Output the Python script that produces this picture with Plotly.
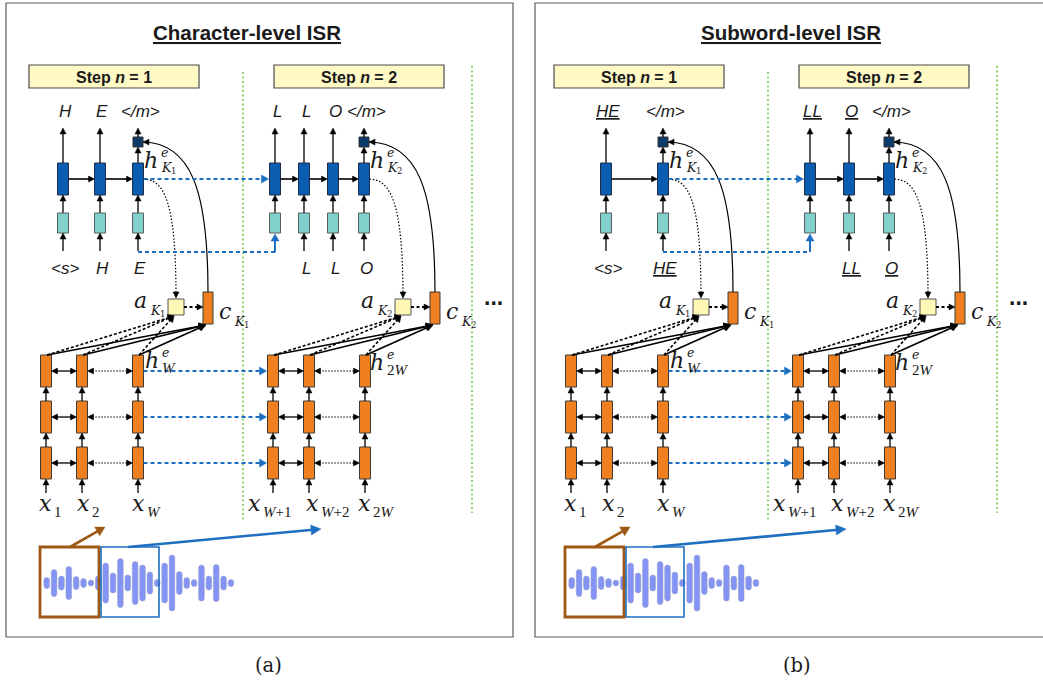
import math
import plotly.graph_objects as go

# ---------------- data ----------------
panel_titles = ["Character-level ISR", "Subword-level ISR"]
captions = ["(a)", "(b)"]
step_numbers = ["1", "2"]
# decoder output / input tokens, per panel, per step
dec_out_tokens = [
    [["H", "E", "</m>"], ["L", "L", "O", "</m>"]],
    [["HE", "</m>"], ["LL", "O", "</m>"]],
]
dec_in_tokens = [
    [["<s>", "H", "E"], [None, "L", "L", "O"]],
    [["<s>", "HE"], [None, "LL", "O"]],
]
underline_tokens = [False, True]
enc_input_subs = [["1", "2", "W"], ["W+1", "W+2", "2W"]]
att_subs = ["1", "2"]
hidden_subs = ["W", "2W"]
# waveform bar heights (px)
wave_heights = [11, 27, 14, 33, 13, 9, 6, 14, 40, 20, 49, 16, 43, 36, 22, 7,
                40, 56, 23, 11, 7, 36, 14, 37, 14, 7]

# ---------------- layout constants ----------------
W, H = 1043, 681
PANEL_DX = [0, 525]
STEP_DX = [0, 227]
dec_cols = [[[63, 100, 138], [275, 304, 333, 364]],
            [[81, 138], [285, 324, 364]]]
enc_cols = [46, 82, 138]
enc_rows = [(355, 387), (401, 433), (447, 479)]
xlabel_left = [[40, 78, 133], [249, 307, 359]]

DEC_FILL, DEC_LINE = "#0A5DB0", "#1E2E48"
SQ_FILL = "#0C3A6B"
EMB_FILL, EMB_LINE = "#82D0CB", "#56605F"
ENC_FILL, ENC_LINE = "#F0801F", "#3A3A3A"
ATT_FILL = "#FFF8B5"
STEP_FILL = "#FFF9C6"
GREEN = "#72C147"
BLUE_D = "#1C6EC2"
BROWN = "#9E5A14"
BLUE_R = "#1E6FBF"
WAVE = "#8393F6"
TXT = "#1A1A1A"
SANS = "Liberation Sans"
SERIF = "DejaVu Serif"
SERIF2 = "Liberation Serif"
MS = 22      # math base size
MSS = 12.5   # math small size
MSD = 8.5    # tiny digit size

shapes = []
annots = []


def line(x0, y0, x1, y1, color="black", width=1.3, dash=None):
    d = dict(type="line", x0=x0, y0=y0, x1=x1, y1=y1, xref="x", yref="y",
             line=dict(color=color, width=width))
    if dash:
        d["line"]["dash"] = dash
    shapes.append(d)


def head(xt, yt, ux, uy, color="black", L=6, hw=3):
    bx, by = xt - ux * L, yt - uy * L
    px, py = -uy * hw, ux * hw
    path = f"M {xt},{yt} L {bx+px},{by+py} L {bx-px},{by-py} Z"
    shapes.append(dict(type="path", path=path, xref="x", yref="y",
                       fillcolor=color, line=dict(color=color, width=0.5)))


def arrow(x0, y0, x1, y1, color="black", width=1.3, dash=None, L=6, hw=3, both=False):
    dx, dy = x1 - x0, y1 - y0
    d = math.hypot(dx, dy)
    ux, uy = dx / d, dy / d
    sx, sy = x0, y0
    if both:
        sx, sy = x0 + ux * L * 0.8, y0 + uy * L * 0.8
        head(x0, y0, -ux, -uy, color, L, hw)
    line(sx, sy, x1 - ux * L * 0.8, y1 - uy * L * 0.8, color, width, dash)
    head(x1, y1, ux, uy, color, L, hw)


def curve(p0, p1, p2, p3, color="black", width=1.2, dash=None, L=6, hw=3):
    path = f"M {p0[0]},{p0[1]} C {p1[0]},{p1[1]} {p2[0]},{p2[1]} {p3[0]},{p3[1]}"
    d = dict(type="path", path=path, xref="x", yref="y",
             line=dict(color=color, width=width))
    if dash:
        d["line"]["dash"] = dash
    shapes.append(d)
    dx, dy = p3[0] - p2[0], p3[1] - p2[1]
    n = math.hypot(dx, dy)
    head(p3[0], p3[1], dx / n, dy / n, color, L, hw)


def rect(x0, y0, x1, y1, fill, lc, lw=1.0):
    shapes.append(dict(type="rect", x0=x0, y0=y0, x1=x1, y1=y1, xref="x", yref="y",
                       fillcolor=fill, line=dict(color=lc, width=lw)))


def text(x, y, s, size, family=SANS, xanchor="center", yanchor="middle", color=TXT):
    annots.append(dict(x=x, y=y, xref="x", yref="y", text=s, showarrow=False,
                       xanchor=xanchor, yanchor=yanchor, borderpad=0,
                       font=dict(family=family, size=size, color=color)))


def ital(s):
    return "".join(f"<i>{c}</i>" if c.isalpha() else c for c in s)


def label_K(X, y, digit):
    """subscript K with tiny digit, placed right after a base glyph ending at X."""
    text(X + 0.5, y, "<i>K</i>", MSS, SERIF, "left")
    text(X + 10.5, y + 3.5, digit, MSD, SERIF, "left")


def bar(cx, cy, h, r, fill):
    hh = max(h / 2.0, r)
    t, b = cy - hh, cy + hh
    path = (f"M {cx-r},{t+r} Q {cx-r},{t} {cx},{t} Q {cx+r},{t} {cx+r},{t+r} "
            f"L {cx+r},{b-r} Q {cx+r},{b} {cx},{b} Q {cx-r},{b} {cx-r},{b-r} Z")
    shapes.append(dict(type="path", path=path, xref="x", yref="y",
                       fillcolor=fill, line=dict(color="#9AA2CC", width=0.6)))


def tok(s, under):
    if s is None:
        return None
    esc = s.replace("<", "&lt;").replace(">", "&gt;")
    if under and s not in ("<s>", "</m>"):
        return f'<i><span style="text-decoration:underline">{esc}</span></i>'
    return f"<i>{esc}</i>"


# ---------------- drawing ----------------
DHW = 5.5
for p in range(2):
    ox = PANEL_DX[p]
    # panel border
    if p == 0:
        rect(6, 3, 513, 637, "rgba(0,0,0,0)", "#5A5A5A", 1.2)
    else:
        rect(535, 3, 1060, 637, "rgba(0,0,0,0)", "#5A5A5A", 1.2)
    # title
    text((247 if p == 0 else 266) + ox, 32,
         f'<b><span style="text-decoration:underline">{panel_titles[p]}</span></b>', 20.5)
    # caption
    text((268 if p == 0 else 272) + ox, 665, captions[p], 19.5, SERIF)
    # green separators
    line(243 + ox, 72, 243 + ox, 520, GREEN, 1.5, "2px,2.5px")
    line(472 + ox, 66, 472 + ox, 513, GREEN, 1.5, "2px,2.5px")
    # dots
    text(493 + ox, 297, "<b>...</b>", 23)

    for s in range(2):
        sx = ox + STEP_DX[s]
        # step box
        bx0 = 29 + ox + (245 if s else 0)
        rect(bx0, 65, bx0 + 170, 88, STEP_FILL, "#4A4A4A", 1.2)
        text(bx0 + 85, 77, f"<b>Step <i>n</i> = {step_numbers[s]}</b>", 16)

        cols = [c + ox for c in dec_cols[p][s]]
        outs = dec_out_tokens[p][s]
        ins = dec_in_tokens[p][s]
        n = len(cols)
        for i, cx in enumerate(cols):
            last = i == n - 1
            text(cx + 2, 111, tok(outs[i], underline_tokens[p]), 17)
            if last:
                arrow(cx, 163, cx, 147)
                rect(cx - 5, 137, cx + 5, 147, SQ_FILL, "#333", 1)
                arrow(cx, 137, cx, 128)
            else:
                arrow(cx, 163, cx, 128)
            rect(cx - DHW, 163, cx + DHW, 195, DEC_FILL, DEC_LINE, 1)
            arrow(cx, 213, cx, 195)
            rect(cx - DHW, 213, cx + DHW, 233, EMB_FILL, EMB_LINE, 1)
            if ins[i] is not None:
                arrow(cx, 251, cx, 233)
                text(cx + 2, 268, tok(ins[i], underline_tokens[p]), 17)
            if i < n - 1:
                arrow(cx + DHW, 179, cols[i + 1] - DHW, 179, width=1.6)
        lastx = cols[-1]
        # h^e_K label
        X = lastx + 21
        text(X, 160, "<i>h</i>", MS, SERIF, "right")
        text(X + 0.5, 152, "<i>e</i>", MSS, SERIF, "left")
        label_K(X, 167.5, att_subs[s])

        # attention + context
        ax0 = 168 + sx
        cx0 = 203 + sx
        rect(ax0, 299, ax0 + 16, 315, ATT_FILL, "#555", 1)
        rect(cx0, 292, cx0 + 10, 324, ENC_FILL, ENC_LINE, 1)
        arrow(ax0 + 16, 307, cx0, 307, width=1.8, dash="3px,2.5px")
        X = ax0 - 20
        text(X, 300, "<i>a</i>", MS, SERIF, "right")
        label_K(X, 310.5, att_subs[s])
        X = cx0 + 29
        text(X, 311, "<i>c</i>", MS, SERIF, "right")
        label_K(X, 321, att_subs[s])
        # dotted curve: decoder state -> attention
        curve((lastx + DHW, 179), (lastx + 26, 180), (ax0 + 8, 200), (ax0 + 8, 298),
              dash="1.5px,1.8px", width=1.2)
        # solid curve: context -> output
        curve((cx0 + 5, 292), (cx0 + 5, 190), (cx0 - 12, 143), (lastx + 5, 142), width=1.2)

        # encoder
        ecols = [c + sx for c in enc_cols]
        for j, ex in enumerate(ecols):
            for (y0, y1) in enc_rows:
                rect(ex - DHW, y0, ex + DHW, y1, ENC_FILL, ENC_LINE, 1)
            arrow(ex, 493, ex, 479)
            arrow(ex, 447, ex, 433)
            arrow(ex, 401, ex, 387)
            # lines to attention / context
            arrow(ex + 1, 355, ax0 + 6, 316, width=1.6, dash="3px,2px", L=6, hw=3.5)
            arrow(ex + 1, 355, cx0 + 3, 325, width=1.6, L=7, hw=3.5)
            # x labels
            X = xlabel_left[s][j] + ox + 12.5
            text(X, 503, "<i>x</i>", MS, SERIF, "right")
            text(X + 0.5, 512, ital(enc_input_subs[s][j]), 15, SERIF2, "left")
        for (y0, y1) in enc_rows:
            yc = (y0 + y1) / 2
            arrow(ecols[0] + DHW, yc, ecols[1] - DHW, yc, width=1.3, both=True, L=6, hw=3)
            arrow(ecols[1] + DHW, yc, ecols[2] - DHW, yc, width=1.2, dash="1.5px,1.5px",
                  both=True, L=6, hw=3)
        # h^e_W label
        X = ecols[2] + (22 if s == 0 else 20)
        hy = 360 if s == 0 else 362
        text(X, hy, "<i>h</i>", MS, SERIF, "right")
        text(X + 0.5, hy - 8, "<i>e</i>", MSS, SERIF, "left")
        text(X + 0.5, hy + 8, ital(hidden_subs[s]), 15, SERIF2, "left")

    # cross-step blue dotted connections
    c1 = dec_cols[p][0][-1] + ox
    c2 = dec_cols[p][1][0] + ox
    arrow(c1 + DHW, 179, c2 - DHW - 1, 179, BLUE_D, 2, "4px,3px", L=7, hw=4)
    line(c1, 252, c2, 252, BLUE_D, 2, "4px,3px")
    arrow(c2, 252, c2, 234, BLUE_D, 2, None, L=7, hw=4)
    for (y0, y1) in enc_rows:
        yc = (y0 + y1) / 2
        arrow(enc_cols[2] + ox + DHW, yc, enc_cols[0] + ox + STEP_DX[1] - DHW - 1, yc,
              BLUE_D, 2, "4px,3px", L=7, hw=4)

    # waveform
    for k, hgt in enumerate(wave_heights):
        bar(46.7 + ox + k * 7.37, 583, hgt, 2.8, WAVE)
    rect(40 + ox, 547, 99 + ox, 617, "rgba(0,0,0,0)", BROWN, 2.8)
    rect(101 + ox, 547, 159 + ox, 617, "rgba(0,0,0,0)", BLUE_R, 1.6)
    arrow(70 + ox, 547, 105 + ox, 527, BROWN, 2.6, L=9, hw=5)
    arrow(128 + ox, 547, 321 + ox, 529, BLUE_R, 2.6, L=10, hw=5)

fig = go.Figure()
fig.add_trace(go.Scatter(x=[0], y=[0], mode="markers", marker=dict(opacity=0),
                         hoverinfo="skip", showlegend=False))
fig.update_layout(
    width=W, height=H, margin=dict(l=0, r=0, t=0, b=0),
    paper_bgcolor="white", plot_bgcolor="white",
    xaxis=dict(range=[0, W], visible=False, fixedrange=True),
    yaxis=dict(range=[H, 0], visible=False, fixedrange=True),
    shapes=shapes, annotations=annots, showlegend=False,
)
fig.write_html("out.html")
